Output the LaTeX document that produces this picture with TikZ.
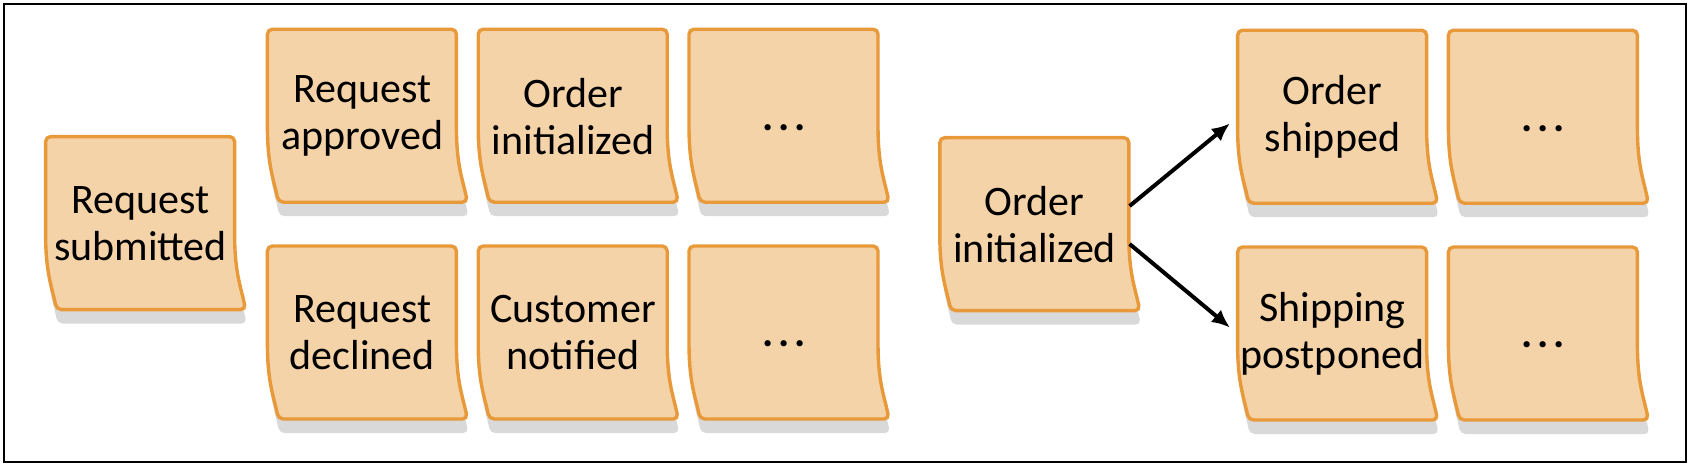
\documentclass[tikz,border=0pt]{standalone}
\usepackage{fontspec}
\setmainfont{Carlito}
\usetikzlibrary{positioning,arrows.meta,calc}
\definecolor{notefill}{HTML}{F5D3A8}
\definecolor{noteline}{HTML}{E8993A}
\definecolor{noteshade}{HTML}{D9D9D9}
\pgfdeclarelayer{background}
\pgfsetlayers{background,main}
\newcommand{\moredots}{\smash{\raisebox{-7pt}{\textbf{.\hspace{2.5pt}.\hspace{2.5pt}.}}}}

\begin{document}
\begin{tikzpicture}[
    ev/.style ={
        minimum width=94.5pt,
        minimum height=86.5pt,
        inner sep=0pt,
        align=center,
        font=\fontsize{21}{23.5}\selectfont
    },
    stickypath/.style={insert path={
        -- ++(94.5pt,0) -- ++(0,-46pt)
        .. controls +(0,-22pt) and +(-2.5pt,12pt) .. ++(5.5pt,-40.5pt)
        -- ++(-94.5pt,0)
        .. controls +(-2.5pt,12pt) and +(0,-22pt) .. ++(-5.5pt,40.5pt)
        -- cycle}
    },
    arr/.style={-{Latex[length=9pt,width=8pt]}, line width=2pt, shorten >=5pt},
    node distance=21.5pt and 10.5pt
    ]

    \useasboundingbox (0,0) rectangle (845pt,-233pt);
    \draw[line width=0.75pt] (2pt,-2pt) rectangle (843pt,-231pt);

    \node[ev] (submitted) at (70.25pt,-111.75pt) {Request\\submitted};
    \node[ev] (approved) [above right=10.25pt and 16pt of submitted.east] {Request\\approved};
    \node[ev] (initialized) [right=of approved] {Order\\initialized};
    \node[ev] (dotsa) [right=of initialized] {\moredots};
    \node[ev] (declined) [below=of approved] {Request\\declined};
    \node[ev] (notified) [right=of declined] {Customer\\notified};
    \node[ev] (dotsb) [right=of notified] {\moredots};

    \coordinate (mid) at ($(dotsa.east)!.5!(dotsb.east)$);
    \node[ev] (order) [right=30.5pt of mid] {Order\\initialized};
    \node[ev] (shipped) [above right=10.25pt and 54pt of order.east] {Order\\shipped};
    \node[ev] (postponed) [below=of shipped] {Shipping\\postponed};
    \node[ev] (dotsc) [right=of shipped] {\moredots};
    \node[ev] (dotsd) [right=of postponed] {\moredots};

    \foreach \dst/\dy in {shipped/9.25pt, postponed/-9.75pt}
        \path[arr] ([yshift=\dy]order.east) edge (\dst.west);

    % paper notes behind the text
    \begin{pgfonlayer}{background}
        \foreach \n in {submitted,approved,initialized,dotsa,declined,notified,dotsb,order,shipped,postponed,dotsc,dotsd}{
            \fill[noteshade, rounded corners=2.5pt] ([shift={(0.5pt,-7pt)}]\n.north west) [stickypath];
            \filldraw[fill=notefill, draw=noteline, line width=1.7pt, rounded corners=2.5pt] (\n.north west) [stickypath];
        }
    \end{pgfonlayer}
\end{tikzpicture}
\end{document}
